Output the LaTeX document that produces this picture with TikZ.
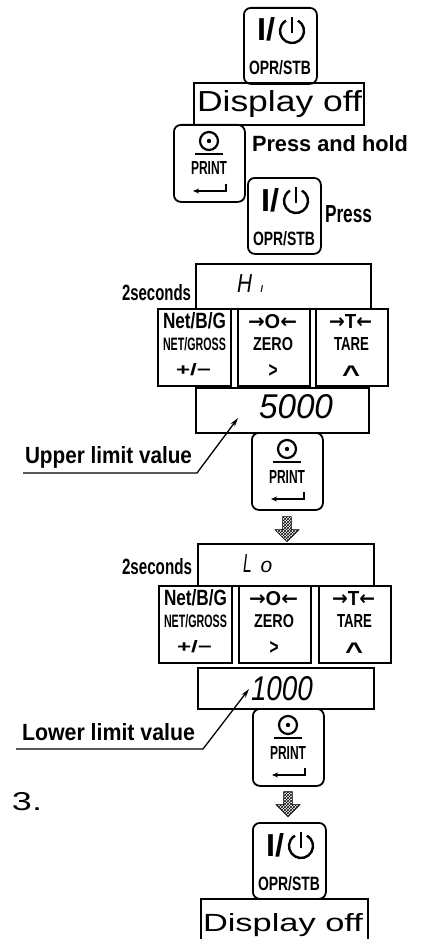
\documentclass[tikz,border=0pt]{standalone}
\usepackage{fontspec}
\setmainfont{Liberation Sans}
\newfontfamily\djv{DejaVu Sans}
\usepackage{graphicx}
\usetikzlibrary{shapes.arrows,patterns,arrows.meta}
\newcommand\fitt[3]{\resizebox{#1pt}{#2pt}{#3}}
\tikzset{
 lbl/.style={inner sep=0pt, outer sep=0pt, anchor=base west},
 ctr/.style={inner sep=0pt, outer sep=0pt, anchor=base},
 box/.style={draw, line width=1.8pt, inner sep=0pt, anchor=north west},
 rkey/.style={box, rounded corners=7pt},
 sqkey/.style={box},
 darr/.style={single arrow, draw, line width=0.6pt, pattern=crosshatch, shape border rotate=270, minimum height=25pt, minimum width=24pt, single arrow head extend=4pt, single arrow tip angle=90, inner sep=2pt},
 lead/.style={line width=1.3pt, -{Stealth[length=9pt,width=5pt]}},
 sym/.style={line width=2.4pt},
}
\newcommand\oprkey[3]{%
 \node[rkey, minimum width=73pt, minimum height=76pt] (#1) at (#2,#3) {};
 \begin{scope}[shift={(#2,#3)}]
  \node[lbl] (#1io) at (14,34) {\fitt{18}{23}{\bfseries I/}};
  \draw[sym] (49,24) ++(-60:12) arc[start angle=-60, end angle=240, radius=12];
  \draw[sym] (49,10) -- (49,26);
  \node[lbl] (#1lb) at (6,68) {\fitt{62}{14}{\bfseries OPR/STB}};
 \end{scope}}
\newcommand\printkey[3]{%
 \node[rkey, minimum width=71pt, minimum height=77pt] (#1) at (#2,#3) {};
 \begin{scope}[shift={(#2,#3)}]
  \draw[line width=2.2pt] (36,17) circle[radius=9];
  \fill (36,17) circle[radius=2.2];
  \draw[line width=2.2pt] (22,30) -- (50,30);
  \node[lbl] (#1lb) at (18,51) {\fitt{36}{13}{\bfseries PRINT}};
  \draw[line width=1.6pt, -{Stealth[length=6pt,width=5pt]}] (53,60) -- (53,67) -- (20,67);
 \end{scope}}
\newcommand\netkey[3]{%
 \node[sqkey, minimum width=73pt, minimum height=77pt] (#1) at (#2,#3) {};
 \begin{scope}[shift={(#2,#3)}]
  \node[lbl] (#1a) at (6,20) {\fitt{63}{16}{\bfseries Net/B/G}};
  \node[lbl] (#1b) at (6,42) {\fitt{63}{13}{\bfseries NET/GROSS}};
  \node[lbl] (#1c) at (19,67) {\fitt{35}{12}{\bfseries +/−}};
 \end{scope}}
\newcommand\zerokey[3]{%
 \node[sqkey, minimum width=72pt, minimum height=77pt] (#1) at (#2,#3) {};
 \begin{scope}[shift={(#2,#3)}]
  \node[lbl] (#1a) at (11,20) {\fitt{49}{14}{{\djv\bfseries →}{\bfseries O}{\djv\bfseries ←}}};
  \node[lbl] (#1b) at (16,42) {\fitt{40}{13}{\bfseries ZERO}};
  \node[ctr] (#1c) at (36,69) {\fitt{9}{13}{\bfseries >}};
 \end{scope}}
\newcommand\tarekey[3]{%
 \node[sqkey, minimum width=72pt, minimum height=77pt] (#1) at (#2,#3) {};
 \begin{scope}[shift={(#2,#3)}]
  \node[lbl] (#1a) at (14,20) {\fitt{43}{14}{{\djv\bfseries →}{\bfseries T}{\djv\bfseries ←}}};
  \node[lbl] (#1b) at (19,42) {\fitt{35}{13}{\bfseries TARE}};
  \node[ctr] (#1c) at (36,74.5) {\fitt{18}{16.5}{\bfseries \char`\^}};
 \end{scope}}
\begin{document}
\begin{tikzpicture}[x=1pt,y=-1pt]
\useasboundingbox (0,0) rectangle (423,939);
\clip (0,0) rectangle (423,939);
% top
\oprkey{k1}{243}{7}
\node[box, minimum width=170pt, minimum height=42pt] (d1) at (193,82) {};
\node[lbl] (d1t) at (197,112) {\fitt{165}{21}{Display off}};
\printkey{p1}{173}{124}
\node[lbl] (pah) at (252,151) {\fitt{156}{16}{\bfseries Press and hold}};
\oprkey{k2}{247}{177}
\node[lbl] (prs) at (325,222) {\fitt{47}{17}{\bfseries Press}};
% upper limit
\node[lbl] (s1) at (122,300) {\fitt{69}{16}{\bfseries 2seconds}};
\node[box, minimum width=175pt, minimum height=45pt] (h1) at (195,263) {};
\node[lbl] (h1t) at (237,292) {\scalebox{0.8}[1]{\fontsize{26}{26}\selectfont\itshape H}\hspace{8pt}{\fontsize{13}{13}\selectfont\itshape ı}};
\netkey{n1}{157}{308}
\zerokey{z1}{237}{308}
\tarekey{t1}{315}{308}
\node[box, minimum width=173pt, minimum height=45pt] (v1) at (195,387) {};
\node[lbl] (v1t) at (259,418) {\fitt{74}{24}{\itshape 5000}};
\node[lbl] (ul) at (25,463) {\fitt{167}{17}{\bfseries Upper limit value}};
\coordinate (ua) at (23,473);
\coordinate (ub) at (197,473);
\coordinate (ut) at (238,418);
\draw[lead] (ua) -- (ub) -- (ut);
\printkey{p2}{251}{432}
\node[darr] (a1) at (287,527) {};
% lower limit
\node[lbl] (s2) at (122,574) {\fitt{70}{16}{\bfseries 2seconds}};
\node[box, minimum width=176pt, minimum height=42pt] (h2) at (197,543) {};
\node[lbl] (h2t) at (243,572) {\scalebox{0.6}[1]{\fontsize{26}{26}\selectfont\itshape L}\hspace{9pt}{\fontsize{21}{21}\selectfont\itshape o}};
\netkey{n2}{158}{585}
\zerokey{z2}{238}{585}
\tarekey{t2}{318}{585}
\node[box, minimum width=176pt, minimum height=41pt] (v2) at (197,667) {};
\node[lbl] (v2t) at (251,700) {\fitt{62}{24}{\itshape 1000}};
\node[lbl] (ll) at (22,740) {\fitt{173}{17}{\bfseries Lower limit value}};
\coordinate (la) at (16,749);
\coordinate (lb) at (203,749);
\coordinate (lt) at (249,689);
\draw[lead] (la) -- (lb) -- (lt);
\printkey{p3}{252}{708}
\node[darr] (a2) at (288,802) {};
\node[lbl] (three) at (12,810) {\fitt{30}{18}{3.}};
% bottom
\oprkey{k3}{252}{822}
\node[box, minimum width=167pt, minimum height=52pt] (d2) at (200,898) {};
\node[lbl] (d2t) at (203,931) {\fitt{160}{18}{Display off}};
\end{tikzpicture}
\end{document}
